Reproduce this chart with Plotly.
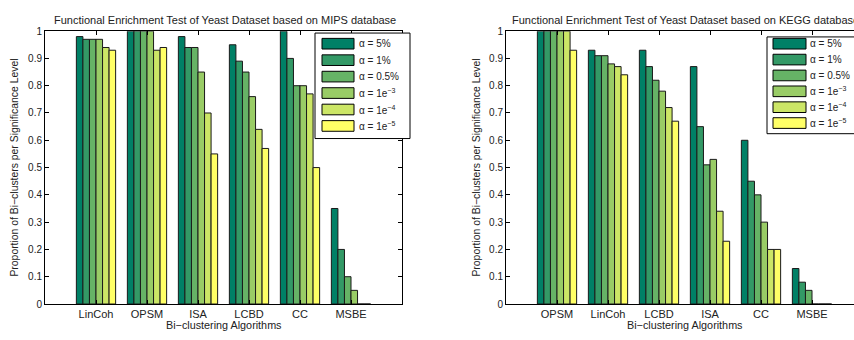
import plotly.graph_objects as go

W, H = 854, 340

# ---------------- data ----------------
levels = ["α = 5%", "α = 1%", "α = 0.5%", "α = 1e<sup>−3</sup>", "α = 1e<sup>−4</sup>", "α = 1e<sup>−5</sup>"]
colors = ["rgb(0,128,102)", "rgb(51,153,102)", "rgb(102,179,102)",
          "rgb(153,204,102)", "rgb(204,230,102)", "rgb(255,255,102)"]

mips_algos = ["LinCoh", "OPSM", "ISA", "LCBD", "CC", "MSBE"]
mips_vals = [
    [0.98, 1.00, 0.98, 0.95, 1.00, 0.35],   # 5%
    [0.97, 1.00, 0.94, 0.89, 0.90, 0.20],   # 1%
    [0.97, 1.00, 0.94, 0.85, 0.80, 0.10],   # 0.5%
    [0.97, 1.00, 0.85, 0.76, 0.80, 0.05],   # 1e-3
    [0.94, 0.93, 0.70, 0.64, 0.77, 0.00],   # 1e-4
    [0.93, 0.94, 0.55, 0.57, 0.50, 0.00],   # 1e-5
]

kegg_algos = ["OPSM", "LinCoh", "LCBD", "ISA", "CC", "MSBE"]
kegg_vals = [
    [1.00, 0.93, 0.93, 0.87, 0.60, 0.13],
    [1.00, 0.91, 0.87, 0.65, 0.45, 0.08],
    [1.00, 0.91, 0.82, 0.51, 0.40, 0.05],
    [1.00, 0.88, 0.78, 0.53, 0.30, 0.00],
    [1.00, 0.87, 0.72, 0.34, 0.20, 0.00],
    [0.93, 0.84, 0.67, 0.23, 0.20, 0.00],
]

y_ticks = [0, 0.1, 0.2, 0.3, 0.4, 0.5, 0.6, 0.7, 0.8, 0.9, 1]
y_tick_text = ["0", "0.1", "0.2", "0.3", "0.4", "0.5", "0.6", "0.7", "0.8", "0.9", "1"]

titles = ["Functional Enrichment Test of Yeast Dataset based on MIPS database",
          "Functional Enrichment Test of Yeast Dataset based on KEGG database"]
x_title = "Bi−clustering Algorithms"
y_title = "Proportion of Bi−clusters per Significance Level"

# ---------------- layout helpers ----------------
def fx(p):
    return p / W

def fy(p):
    return 1 - p / H

FONT = "Liberation Sans, Arial, sans-serif"
TXT = "#222222"

fig = go.Figure()

for i, (lvl, col) in enumerate(zip(levels, colors)):
    fig.add_trace(go.Bar(x=mips_algos, y=mips_vals[i], name=lvl, xaxis="x", yaxis="y",
                         marker=dict(color=col, line=dict(color="#1a1a1a", width=1)),
                         textposition="none", showlegend=False))
for i, (lvl, col) in enumerate(zip(levels, colors)):
    fig.add_trace(go.Bar(x=kegg_algos, y=kegg_vals[i], name=lvl, xaxis="x2", yaxis="y2",
                         marker=dict(color=col, line=dict(color="#1a1a1a", width=1)),
                         textposition="none", showlegend=False))

plot_top, plot_bot = 27, 309
left_l, left_r = 45, 402
right_l, right_r_full = 506, 863
unit = (left_r - left_l) / 7.0

axis_common = dict(showline=True, linecolor="black", linewidth=1, ticks="inside",
                   ticklen=4, tickcolor="black", showgrid=False, zeroline=False)
xfont = dict(family=FONT, size=11, color=TXT)
yfont = dict(family=FONT, size=10, color=TXT)

ydom = [fy(plot_bot), fy(plot_top)]
fig.update_layout(
    width=W, height=H, margin=dict(l=0, r=0, t=0, b=0),
    paper_bgcolor="white", plot_bgcolor="white",
    barmode="group", bargap=0.23, bargroupgap=0,
    xaxis=dict(domain=[fx(left_l), fx(left_r)], anchor="y", type="category",
               range=[-1, 6], mirror="ticks", tickfont=xfont, **axis_common),
    yaxis=dict(domain=ydom, anchor="x", range=[0, 1], tickvals=y_ticks,
               ticktext=y_tick_text, mirror="ticks", tickfont=yfont, **axis_common),
    xaxis2=dict(domain=[fx(right_l), 1], anchor="y2", type="category",
                range=[-1, -1 + (W - right_l) / unit], mirror="ticks", tickfont=xfont,
                **axis_common),
    yaxis2=dict(domain=ydom, anchor="x2", range=[0, 1], tickvals=y_ticks,
                ticktext=y_tick_text, mirror=False, tickfont=yfont, **axis_common),
    font=dict(family=FONT, color=TXT),
)

annotations = []
shapes = []
centers = [(left_l + left_r) / 2, (right_l + right_r_full) / 2]
ytitle_x = [15, 477]
for k in range(2):
    annotations.append(dict(text=titles[k], x=fx(centers[k] + 1), y=fy(15), xref="paper", yref="paper",
                            xanchor="center", yanchor="middle", showarrow=False,
                            font=dict(family=FONT, size=11, color=TXT)))
    annotations.append(dict(text=x_title, x=fx(centers[k]), y=fy(331), xref="paper", yref="paper",
                            xanchor="center", yanchor="middle", showarrow=False,
                            font=dict(family=FONT, size=10.8, color=TXT)))
    annotations.append(dict(text=y_title, x=fx(ytitle_x[k]), y=fy((plot_top + plot_bot) / 2),
                            xref="paper", yref="paper", textangle=-90,
                            xanchor="center", yanchor="middle", showarrow=False,
                            font=dict(family=FONT, size=10.4, color=TXT)))

# legends (box, swatches, labels)
legend_specs = [
    dict(box=(315, 29, 410, 138), sw_x=(322, 354), text_x=357, y0=40, dy=17.0),
    dict(box=(767, 33, 870, 133), sw_x=(773, 806), text_x=808, y0=40, dy=16.4),
]
for spec in legend_specs:
    bx0, by0, bx1, by1 = spec["box"]
    shapes.append(dict(type="rect", xref="paper", yref="paper", layer="above",
                       x0=fx(bx0), x1=fx(bx1), y0=fy(by1), y1=fy(by0),
                       line=dict(color="black", width=1), fillcolor="white"))
    for i, (lvl, col) in enumerate(zip(levels, colors)):
        cy = spec["y0"] + i * spec["dy"]
        shapes.append(dict(type="rect", xref="paper", yref="paper", layer="above",
                           x0=fx(spec["sw_x"][0]), x1=fx(spec["sw_x"][1]),
                           y0=fy(cy + 5.5), y1=fy(cy - 5.5),
                           line=dict(color="black", width=1), fillcolor=col))
        annotations.append(dict(text=lvl, x=fx(spec["text_x"]), y=fy(cy), xref="paper", yref="paper",
                                xanchor="left", yanchor="middle", showarrow=False,
                                font=dict(family=FONT, size=10, color=TXT)))

fig.update_layout(annotations=annotations, shapes=shapes)

fig.write_html("out.html")
